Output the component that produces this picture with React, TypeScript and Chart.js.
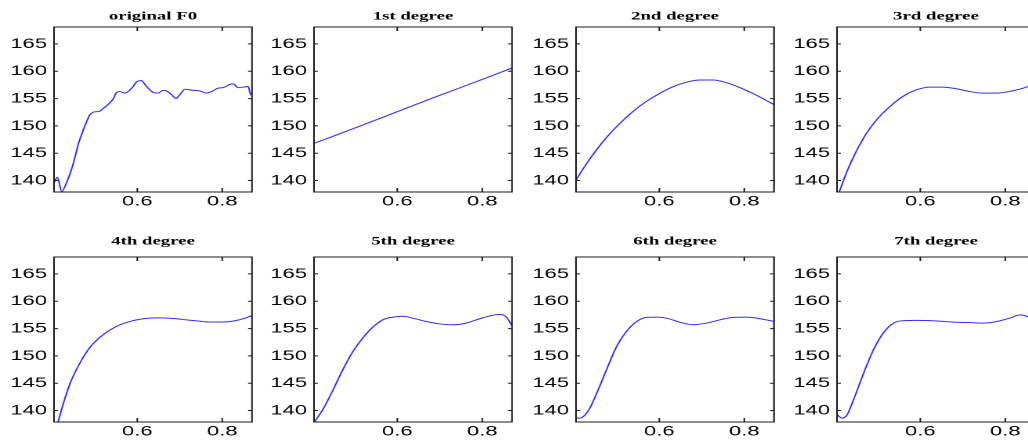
import React, { useEffect, useRef } from 'react';
import { Chart, registerables } from 'chart.js';

Chart.register(...registerables);

// ---------- data ----------
const TITLES = [
  'original F0', '1st degree', '2nd degree', '3rd degree',
  '4th degree', '5th degree', '6th degree', '7th degree',
];
const X_TICKS = [0.6, 0.8];
const Y_TICKS = [140, 145, 150, 155, 160, 165];
const X_MIN = 0.404;
const X_MAX = 0.87;
const Y_MIN = 137.9;
const Y_MAX = 168.1;

const ORIG_X = [0.404, 0.412, 0.422, 0.434, 0.449, 0.461, 0.473, 0.481, 0.488, 0.496, 0.504, 0.512, 0.52, 0.528, 0.543, 0.551, 0.559, 0.571, 0.587, 0.599, 0.61, 0.614, 0.622, 0.638, 0.649, 0.661, 0.669, 0.681, 0.691, 0.7, 0.712, 0.732, 0.747, 0.763, 0.778, 0.79, 0.802, 0.818, 0.826, 0.837, 0.849, 0.861, 0.866, 0.87];
const ORIG_Y = [139.6, 140.6, 138.0, 139.7, 143.0, 146.6, 149.3, 150.8, 152.0, 152.5, 152.6, 152.7, 153.2, 153.7, 154.9, 156.1, 156.3, 156.0, 156.9, 158.1, 158.3, 158.0, 157.2, 156.1, 156.0, 156.5, 156.4, 155.7, 155.0, 155.7, 156.7, 156.5, 156.4, 156.0, 156.4, 156.9, 157.0, 157.6, 157.7, 157.0, 157.1, 157.2, 155.9, 155.6];

const DEG1_X = [0.404, 0.5, 0.6, 0.7, 0.8, 0.87];
const DEG1_Y = [146.8, 149.6, 152.6, 155.6, 158.5, 160.6];

const DEG2_X = [0.404, 0.429, 0.453, 0.476, 0.508, 0.539, 0.57, 0.602, 0.633, 0.664, 0.696, 0.727, 0.758, 0.79, 0.821, 0.853, 0.87];
const DEG2_Y = [140.1, 143.1, 145.7, 147.9, 150.5, 152.7, 154.5, 156.0, 157.2, 158.0, 158.4, 158.4, 157.9, 157.0, 155.9, 154.6, 153.9];

const DEG3_X = [0.404, 0.409, 0.426, 0.449, 0.473, 0.496, 0.528, 0.559, 0.591, 0.622, 0.653, 0.685, 0.716, 0.748, 0.779, 0.81, 0.842, 0.853, 0.87];
const DEG3_Y = [137.1, 137.9, 141.4, 145.3, 148.6, 151.0, 153.5, 155.4, 156.6, 157.1, 157.1, 156.8, 156.3, 156.0, 156.0, 156.3, 156.9, 157.2, 157.8];

const DEG4_X = [0.404, 0.414, 0.426, 0.442, 0.465, 0.489, 0.52, 0.551, 0.583, 0.614, 0.646, 0.677, 0.708, 0.74, 0.771, 0.802, 0.834, 0.857, 0.87];
const DEG4_Y = [135.4, 138.0, 141.3, 145.0, 148.7, 151.6, 153.9, 155.4, 156.3, 156.8, 156.95, 156.9, 156.65, 156.4, 156.2, 156.2, 156.5, 157.0, 157.4];

const DEG5_X = [0.404, 0.425, 0.449, 0.472, 0.496, 0.519, 0.543, 0.566, 0.59, 0.613, 0.637, 0.668, 0.7, 0.731, 0.762, 0.794, 0.825, 0.841, 0.857, 0.87];
const DEG5_Y = [137.8, 140.2, 143.8, 147.5, 150.85, 153.3, 155.3, 156.6, 157.1, 157.25, 156.9, 156.3, 155.85, 155.7, 156.0, 156.8, 157.45, 157.6, 157.1, 155.5];

const DEG6_X = [0.404, 0.413, 0.424, 0.437, 0.453, 0.476, 0.5, 0.523, 0.547, 0.57, 0.594, 0.617, 0.649, 0.68, 0.711, 0.743, 0.774, 0.806, 0.837, 0.87];
const DEG6_Y = [138.65, 138.6, 139.1, 140.5, 143.2, 147.5, 151.8, 154.5, 156.3, 157.05, 157.1, 156.9, 156.15, 155.7, 156.0, 156.6, 157.05, 157.1, 156.8, 156.3];

const DEG7_X = [0.404, 0.416, 0.428, 0.443, 0.467, 0.49, 0.514, 0.537, 0.561, 0.592, 0.624, 0.655, 0.686, 0.718, 0.749, 0.78, 0.812, 0.835, 0.851, 0.87];
const DEG7_Y = [139.25, 138.6, 139.25, 142.0, 146.9, 151.15, 154.3, 156.0, 156.45, 156.5, 156.45, 156.3, 156.15, 156.1, 156.0, 156.3, 156.95, 157.5, 157.25, 156.3];

const SERIES_X = [ORIG_X, DEG1_X, DEG2_X, DEG3_X, DEG4_X, DEG5_X, DEG6_X, DEG7_X];
const SERIES_Y = [ORIG_Y, DEG1_Y, DEG2_Y, DEG3_Y, DEG4_Y, DEG5_Y, DEG6_Y, DEG7_Y];

// ---------- layout / style ----------
const CANVAS_W = 166;
const CANVAS_H = 211;
const STRETCH = 260 / CANVAS_W;
const COL_LEFT = [0, 260, 522, 783];
const ROW_TOP = [0, 230];
const TITLE_PAD_TOP = [9.3, 4.3];
const TITLE_H = 27;
const X_AXIS_H = 19;
const Y_AXIS_W = 54 / STRETCH;
const PAD_RIGHT = CANVAS_W - 252 / STRETCH;
const LINE_COLOR = '#2f2fff';
const FRAME_COLOR = '#1a1a1a';
const TICK_FONT = { family: '"Liberation Sans", Arial, sans-serif', size: 14 };
const TITLE_FONT = { family: '"Liberation Serif", "Times New Roman", serif', size: 12, weight: 'bold' as const };

const framePlugin = {
  id: 'matlabFrame',
  afterDatasetsDraw(chart: any) {
    const { ctx, chartArea } = chart;
    const { left, right, top, bottom } = chartArea;
    const xs = chart.scales.x;
    const ys = chart.scales.y;
    ctx.save();
    ctx.strokeStyle = FRAME_COLOR;
    ctx.lineWidth = 1;
    ctx.strokeRect(left, top, right - left, bottom - top);
    ctx.beginPath();
    xs.ticks.forEach((t: any) => {
      const px = xs.getPixelForValue(t.value);
      ctx.moveTo(px, bottom);
      ctx.lineTo(px, bottom - 4);
      ctx.moveTo(px, top);
      ctx.lineTo(px, top + 4);
    });
    ys.ticks.forEach((t: any) => {
      const py = ys.getPixelForValue(t.value);
      ctx.moveTo(left, py);
      ctx.lineTo(left + 2.5, py);
      ctx.moveTo(right, py);
      ctx.lineTo(right - 2.5, py);
    });
    ctx.stroke();
    ctx.restore();
  },
};

function Panel({ idx }: { idx: number }) {
  const ref = useRef<HTMLCanvasElement>(null);
  const row = Math.floor(idx / 4);
  const col = idx % 4;

  useEffect(() => {
    if (!ref.current) return;
    const xsArr = SERIES_X[idx];
    const ysArr = SERIES_Y[idx];
    const pts = xsArr.map((x, i) => ({ x, y: ysArr[i] }));
    const chart = new Chart(ref.current, {
      type: 'line',
      data: {
        datasets: [
          {
            data: pts,
            borderColor: LINE_COLOR,
            borderWidth: 1,
            pointRadius: 0,
            fill: false,
            cubicInterpolationMode: 'monotone',
            xAxisID: 'x',
            yAxisID: 'y',
          },
        ],
      },
      options: {
        animation: false,
        responsive: false,
        devicePixelRatio: 2,
        events: [],
        layout: { padding: { left: 0, right: PAD_RIGHT, top: 0, bottom: 0 } },
        plugins: {
          legend: { display: false },
          tooltip: { enabled: false },
          title: { display: false },
        },
        scales: {
          x: {
            type: 'linear',
            position: 'bottom',
            min: X_MIN,
            max: X_MAX,
            grid: { display: false, drawTicks: false },
            border: { display: false },
            afterBuildTicks: (s: any) => {
              s.ticks = X_TICKS.map((v) => ({ value: v }));
            },
            ticks: {
              autoSkip: false,
              maxRotation: 0,
              padding: 1,
              color: '#000',
              font: TICK_FONT,
              callback: (v: any) => String(v),
            },
            afterFit: (s: any) => {
              s.height = X_AXIS_H;
            },
          },
          xTop: {
            type: 'linear',
            position: 'top',
            min: 0,
            max: 1,
            grid: { display: false, drawTicks: false },
            border: { display: false },
            ticks: { display: false },
            title: {
              display: true,
              text: TITLES[idx],
              color: '#000',
              font: TITLE_FONT,
              padding: { top: TITLE_PAD_TOP[row], bottom: 0 },
            },
            afterFit: (s: any) => {
              s.height = TITLE_H;
            },
          },
          y: {
            type: 'linear',
            position: 'left',
            min: Y_MIN,
            max: Y_MAX,
            grid: { display: false, drawTicks: false },
            border: { display: false },
            afterBuildTicks: (s: any) => {
              s.ticks = Y_TICKS.map((v) => ({ value: v }));
            },
            ticks: {
              autoSkip: false,
              padding: 4.5,
              color: '#000',
              font: TICK_FONT,
              callback: (v: any) => String(v),
            },
            afterFit: (s: any) => {
              s.width = Y_AXIS_W;
            },
          },
        },
      } as any,
      plugins: [framePlugin],
    });
    return () => chart.destroy();
  }, [idx]);

  return (
    <div
      style={{
        position: 'absolute',
        left: COL_LEFT[col],
        top: ROW_TOP[row],
        width: CANVAS_W,
        height: CANVAS_H,
        transform: `scaleX(${STRETCH})`,
        transformOrigin: '0 0',
      }}
    >
      <canvas ref={ref} width={CANVAS_W} height={CANVAS_H} />
    </div>
  );
}

export default function App() {
  useEffect(() => {
    document.body.style.margin = '0';
    document.body.style.overflow = 'hidden';
  }, []);
  return (
    <div
      style={{
        position: 'absolute',
        left: 0,
        top: 0,
        width: 1028,
        height: 441,
        overflow: 'hidden',
        background: '#fff',
      }}
    >
      {TITLES.map((_, i) => (
        <Panel key={i} idx={i} />
      ))}
    </div>
  );
}
